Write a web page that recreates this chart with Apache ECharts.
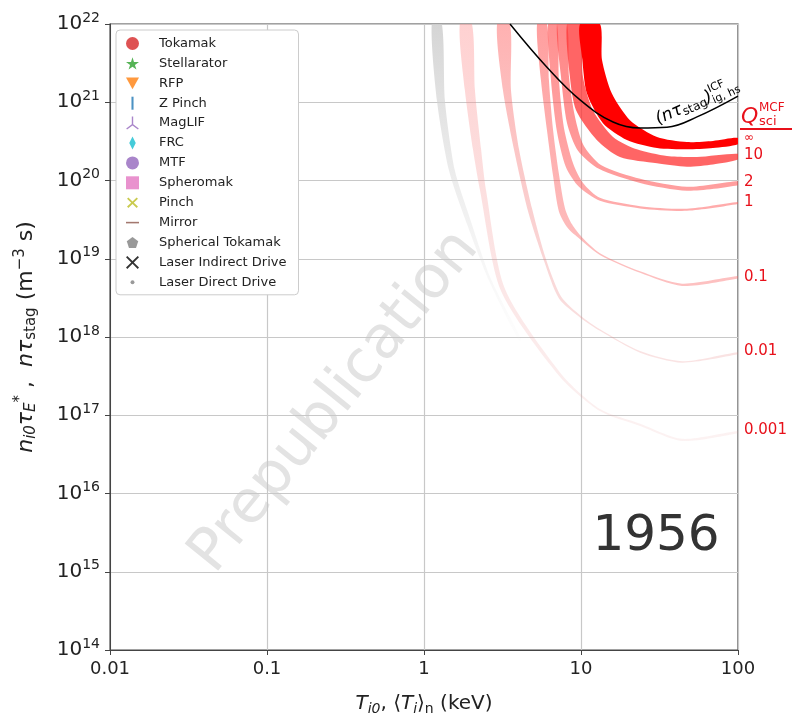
<!DOCTYPE html>
<html>
<head>
<meta charset="utf-8">
<script src="https://cdn.jsdelivr.net/npm/echarts@6/dist/echarts.min.js"></script>
<style>
  html, body { margin: 0; padding: 0; background: #fff; }
  #chart { width: 799px; height: 724px; }
</style>
</head>
<body>
<div id="chart"></div>
<script>
// Q_sci^MCF bands: outer (upper/right) edge and inner (lower/left) edge, [T keV, n m^-3 s]
const qInfOuterT = [13.2, 13.6, 15.7, 20.5, 30.5, 47.3, 69.3, 100];
const qInfOuterN = [1e22, 3.5e21, 1.3e21, 5.9e20, 3.6e20, 3.1e20, 3.2e20, 3.5e20];
const qInfInnerT = [9.86, 10.2, 10.9, 13.8, 19.6, 30.5, 47.3, 69.3, 100];
const qInfInnerN = [1e22, 3.5e21, 1.3e21, 5.4e20, 3.3e20, 2.6e20, 2.5e20, 2.6e20, 2.9e20];

const q10OuterT = [9.86, 10.3, 11.9, 16.0, 22.7, 35.3, 54.8, 100];
const q10OuterN = [1e22, 2.1e21, 7.9e20, 3.6e20, 2.5e20, 2.05e20, 2.0e20, 2.2e20];
const q10InnerT = [8.15, 8.5, 9.3, 12.6, 17.7, 30.5, 47.3, 69.3, 100];
const q10InnerN = [1e22, 2.1e21, 7.9e20, 3.3e20, 2.0e20, 1.66e20, 1.5e20, 1.6e20, 1.85e20];

const q2OuterT = [8.15, 8.39, 9.16, 10.4, 13.4, 23.8, 47.3, 100];
const q2OuterN = [1e22, 2.1e21, 6.5e20, 2.8e20, 1.58e20, 1.05e20, 8.3e19, 9.8e19];
const q2InnerT = [7.03, 7.46, 8.15, 9.57, 13.0, 23.8, 47.3, 100];
const q2InnerN = [1e22, 2.1e21, 5.4e20, 2.4e20, 1.41e20, 9.3e19, 7.4e19, 8.7e19];

const q1OuterT = [7.03, 7.24, 7.79, 8.9, 10.3, 13.2, 23.8, 47.3, 100];
const q1OuterN = [1e22, 1.9e21, 4.7e20, 1.66e20, 9.3e19, 6.0e19, 4.7e19, 4.35e19, 5.3e19];
const q1InnerT = [6.17, 6.44, 7.03, 8.02, 9.7, 13.2, 23.8, 47.3, 100];
const q1InnerN = [1e22, 1.9e21, 4.2e20, 1.48e20, 8.3e19, 5.5e19, 4.4e19, 4.1e19, 5.0e19];

const q01OuterT = [6.07, 6.25, 6.64, 7.24, 7.91, 8.77, 10.1, 13.2, 23.8, 44, 100];
const q01OuterN = [1e22, 1.9e21, 4.4e20, 1.2e20, 4.4e19, 2.75e19, 1.9e19, 1.18e19, 6.9e18, 4.8e18, 6.0e18];
const q01InnerT = [5.25, 5.56, 6.07, 6.64, 7.24, 8.26, 9.86, 13.2, 23.8, 44, 100];
const q01InnerN = [1e22, 1.9e21, 4.4e20, 1.14e20, 4.0e19, 2.45e19, 1.78e19, 1.12e19, 6.6e18, 4.5e18, 5.6e18];

const q001OuterT = [3.53, 3.58, 4.03, 4.88, 5.98, 7.46, 10, 13.2, 23.8, 44, 100];
const q001OuterN = [1e22, 1.44e21, 2.5e20, 4.35e19, 9.9e18, 3.3e18, 1.86e18, 1.26e18, 6.6e17, 4.9e17, 6.4e17];
const q001InnerT = [2.92, 3.18, 3.74, 4.59, 5.81, 7.24, 10, 13.2, 23.8, 44, 100];
const q001InnerN = [1e22, 1.44e21, 2.5e20, 4.1e19, 9.4e18, 3.1e18, 1.74e18, 1.2e18, 6.3e17, 4.7e17, 6.0e17];

const q0001OuterT = [2.02, 2.11, 2.31, 2.48, 3.28, 7.46, 13.2, 23.8, 44, 100];
const q0001OuterN = [1e22, 1.44e21, 2.5e20, 7.6e19, 4.1e18, 3.4e17, 1.2e17, 7.8e16, 5.0e16, 6.3e16];
const q0001InnerT = [1.69, 1.82, 2.05, 2.27, 3.09, 7.24, 13.2, 23.8, 44, 100];
const q0001InnerN = [1e22, 1.44e21, 2.5e20, 7.6e19, 3.9e18, 3.2e17, 1.13e17, 7.3e16, 4.7e16, 5.9e16];

// faint grey band at low temperature
const greyOuterT = [1.30, 1.36, 1.57, 1.94, 2.67, 4.15];
const greyOuterN = [1e22, 1.04e21, 1.36e20, 3.5e19, 5.5e18, 9.4e17];
const greyInnerT = [1.12, 1.21, 1.44, 1.82, 2.6, 4.03];
const greyInnerN = [1e22, 1.04e21, 1.36e20, 3.3e19, 5.2e18, 8.9e17];

// ICF hot-spot ignition curve
const icfT = [3.53, 6.07, 9.86, 16.0, 23.8, 35.3, 54.8, 100];
const icfN = [1e22, 2.8e21, 1.07e21, 5.6e20, 4.7e20, 4.8e20, 6.5e20, 1.2e21];

const qLabels = ['∞', '10', '2', '1', '0.1', '0.01', '0.001'];
const qLabelY = [138, 155, 182, 202, 277, 351, 430];

const legendNames = ['Tokamak', 'Stellarator', 'RFP', 'Z Pinch', 'MagLIF', 'FRC', 'MTF',
  'Spheromak', 'Pinch', 'Mirror', 'Spherical Tokamak', 'Laser Indirect Drive', 'Laser Direct Drive'];
const legendColors = ['#d62728', '#2ca02c', '#ff7f0e', '#1f77b4', '#9467bd', '#17becf', '#9467bd',
  '#e377c2', '#bcbd22', '#8c564b', '#7f7f7f', '#000000', '#7f7f7f'];
const legendIcons = [
  'circle',
  'path://M50,0L61,35L98,35L68,57L79,91L50,70L21,91L32,57L2,35L39,35Z',
  'path://M0,0L100,0L50,90Z',
  'path://M0,0M100,100M42,0L58,0L58,100L42,100Z',
  'path://M45,0L55,0L55,55L95,85L89,93L50,63L11,93L5,85L45,55Z',
  'path://M0,0M100,100M50,0L75,50L50,100L25,50Z',
  'circle',
  'rect',
  'path://M0,0M100,100M18,10L50,40L82,10L92,20L60,50L92,80L82,90L50,60L18,90L8,80L40,50L8,20Z',
  'path://M0,0M100,100M0,44L100,44L100,56L0,56Z',
  'path://M0,0M100,100M50,8L94,40L77,92L23,92L6,40Z',
  'path://M10,0L50,40L90,0L100,10L60,50L100,90L90,100L50,60L10,100L0,90L40,50L0,10Z',
  'path://M0,0M100,100M50,35A15,15,0,1,1,50,65A15,15,0,1,1,50,35Z'
];

function zip(ts, ns) { return ts.map((t, i) => [t, ns[i]]); }
function grad(top, bottom) {
  return { type: 'linear', x: 0, y: 0, x2: 0, y2: 1, colorStops: [{ offset: 0, color: top }, { offset: 1, color: bottom }] };
}

const bands = [
  { outer: zip(greyOuterT, greyOuterN), inner: zip(greyInnerT, greyInnerN), fill: grad('rgba(205,205,205,0.85)', 'rgba(225,225,225,0.05)') },
  { outer: zip(q0001OuterT, q0001OuterN), inner: zip(q0001InnerT, q0001InnerN), fill: grad('rgba(255,140,140,0.4)', 'rgba(230,150,150,0.12)') },
  { outer: zip(q001OuterT, q001OuterN), inner: zip(q001InnerT, q001InnerN), fill: grad('rgba(255,100,100,0.5)', 'rgba(230,130,130,0.22)') },
  { outer: zip(q01OuterT, q01OuterN), inner: zip(q01InnerT, q01InnerN), fill: grad('rgba(255,80,80,0.55)', 'rgba(250,100,100,0.4)') },
  { outer: zip(q1OuterT, q1OuterN), inner: zip(q1InnerT, q1InnerN), fill: grad('rgba(255,70,70,0.6)', 'rgba(255,90,90,0.5)') },
  { outer: zip(q2OuterT, q2OuterN), inner: zip(q2InnerT, q2InnerN), fill: grad('rgba(255,60,60,0.62)', 'rgba(255,80,80,0.55)') },
  { outer: zip(q10OuterT, q10OuterN), inner: zip(q10InnerT, q10InnerN), fill: 'rgba(255,50,50,0.75)' },
  { outer: zip(qInfOuterT, qInfOuterN), inner: zip(qInfInnerT, qInfInnerN), fill: '#ff0000' }
];

const chart = echarts.init(document.getElementById('chart'));
const FONT = 'DejaVu Sans';

const series = [];
bands.forEach(function (b, k) {
  series.push({
    type: 'custom',
    name: 'band' + k,
    clip: true,
    silent: true,
    data: [[10, 1e20]],
    renderItem: function (params, api) {
      const pts = b.outer.map(p => api.coord(p))
        .concat(b.inner.slice().reverse().map(p => api.coord(p)));
      return {
        type: 'polygon',
        shape: { points: pts, smooth: 0.25 },
        style: { fill: b.fill, stroke: null }
      };
    }
  });
});
series.push({
  type: 'line', smooth: 0.4, symbol: 'none', silent: true,
  data: zip(icfT, icfN),
  lineStyle: { color: '#000', width: 1.5 }
});
legendNames.forEach(function (n, i) {
  series.push({ type: 'scatter', name: n, data: [], itemStyle: { color: legendColors[i] } });
});

const graphics = [
  {
    type: 'text', position: [335, 402], rotation: 51 * Math.PI / 180, z: 0,
    style: { text: 'Prepublication', font: '59px ' + FONT, fill: '#e3e3e3', textAlign: 'center', textVerticalAlign: 'middle' }
  },
  {
    type: 'text', position: [656, 537], z: 10,
    style: { text: '1956', font: '50px ' + FONT, fill: '#333', textAlign: 'center', textVerticalAlign: 'middle' }
  },
  {
    type: 'text', position: [684, 108], rotation: 24 * Math.PI / 180, z: 10,
    style: {
      text: '{i|(nτ}{s|stag}{i|)}', textAlign: 'center', textVerticalAlign: 'middle',
      rich: {
        i: { fontFamily: FONT, fontSize: 17, fontStyle: 'italic', fill: '#000' },
        s: { fontFamily: FONT, fontSize: 12, fill: '#000', padding: [8, 0, 0, 0] }
      }
    }
  },
  {
    type: 'text', position: [708, 90], rotation: 24 * Math.PI / 180, z: 10,
    style: { text: 'ICF', font: '11px ' + FONT, fill: '#000', textVerticalAlign: 'middle' }
  },
  {
    type: 'text', position: [713, 101], rotation: 24 * Math.PI / 180, z: 10,
    style: { text: 'ig, hs', font: '11px ' + FONT, fill: '#000', textVerticalAlign: 'middle' }
  },
  { type: 'text', position: [741, 117], style: { text: 'Q', font: 'italic 22px ' + FONT, fill: '#e8101a', textVerticalAlign: 'middle' } },
  { type: 'text', position: [759, 108], style: { text: 'MCF', font: '12px ' + FONT, fill: '#e8101a', textVerticalAlign: 'middle' } },
  { type: 'text', position: [759, 122], style: { text: 'sci', font: '13px ' + FONT, fill: '#e8101a', textVerticalAlign: 'middle' } },
  { type: 'line', shape: { x1: 740, y1: 129, x2: 792, y2: 129 }, style: { stroke: '#e8101a', lineWidth: 2 } }
];
qLabels.forEach(function (t, i) {
  graphics.push({
    type: 'text', position: [744, qLabelY[i]],
    style: { text: t, font: (i === 0 ? '12px ' : '15px ') + FONT, fill: '#e8101a', textVerticalAlign: 'middle' }
  });
});

const option = {
  animation: false,
  backgroundColor: '#fff',
  grid: { left: 110, right: 61, top: 24, bottom: 74, show: true, borderColor: '#444', borderWidth: 1.2 },
  xAxis: {
    type: 'log', min: 0.01, max: 100, logBase: 10,
    axisLine: { lineStyle: { color: '#444' } },
    axisTick: { show: true, length: 5, lineStyle: { color: '#444' } },
    splitLine: { show: true, lineStyle: { color: '#c8c8c8', width: 1.2 } },
    axisLabel: { fontFamily: FONT, fontSize: 18, color: '#222', margin: 10, formatter: v => String(+v.toPrecision(3)) },
    name: '{i|T}{s|i0}{n|, ⟨}{i|T}{s|i}{n|⟩}{t|n}{n| (keV)}',
    nameLocation: 'middle', nameGap: 42,
    nameTextStyle: {
      rich: {
        i: { fontFamily: FONT, fontSize: 20, fontStyle: 'italic', color: '#222' },
        n: { fontFamily: FONT, fontSize: 20, color: '#222' },
        s: { fontFamily: FONT, fontSize: 14, fontStyle: 'italic', color: '#222', padding: [10, 0, 0, 0] },
        t: { fontFamily: FONT, fontSize: 14, color: '#222', padding: [10, 0, 0, 0] }
      }
    }
  },
  yAxis: {
    type: 'log', min: 1e14, max: 1e22, logBase: 10,
    axisLine: { lineStyle: { color: '#444' } },
    axisTick: { show: true, length: 5, lineStyle: { color: '#444' } },
    splitLine: { show: true, lineStyle: { color: '#c8c8c8', width: 1.2 } },
    axisLabel: {
      margin: 10,
      formatter: v => '{b|10}{e|' + Math.round(Math.log10(v)) + '}',
      rich: {
        b: { fontFamily: FONT, fontSize: 20, color: '#222' },
        e: { fontFamily: FONT, fontSize: 14, color: '#222', padding: [0, 0, 12, 0] }
      }
    },
    name: '{i|n}{s|i0}{i|τ}{s|E}{p|*}{n| ,  }{i|nτ}{t|stag}{n| (m}{p|−3}{n| s)}',
    nameLocation: 'middle', nameGap: 70,
    nameTextStyle: {
      rich: {
        i: { fontFamily: FONT, fontSize: 22, fontStyle: 'italic', color: '#222' },
        n: { fontFamily: FONT, fontSize: 22, color: '#222' },
        s: { fontFamily: FONT, fontSize: 15, fontStyle: 'italic', color: '#222', padding: [10, 0, 0, 0] },
        t: { fontFamily: FONT, fontSize: 15, color: '#222', padding: [10, 0, 0, 0] },
        p: { fontFamily: FONT, fontSize: 15, color: '#222', padding: [0, 0, 12, 0] }
      }
    }
  },
  legend: {
    data: legendNames.map((n, i) => ({ name: n, icon: legendIcons[i] })),
    orient: 'vertical', left: 116, top: 30,
    itemWidth: 13, itemHeight: 13, itemGap: 6.9,
    padding: [7, 12, 6, 10],
    backgroundColor: '#fff', borderColor: '#ccc', borderWidth: 1, borderRadius: 4,
    textStyle: { fontFamily: FONT, fontSize: 13, color: '#222', padding: [0, 0, 0, 15] },
    selectedMode: false
  },
  graphic: graphics,
  series: series
};
chart.setOption(option);
</script>
</body>
</html>
